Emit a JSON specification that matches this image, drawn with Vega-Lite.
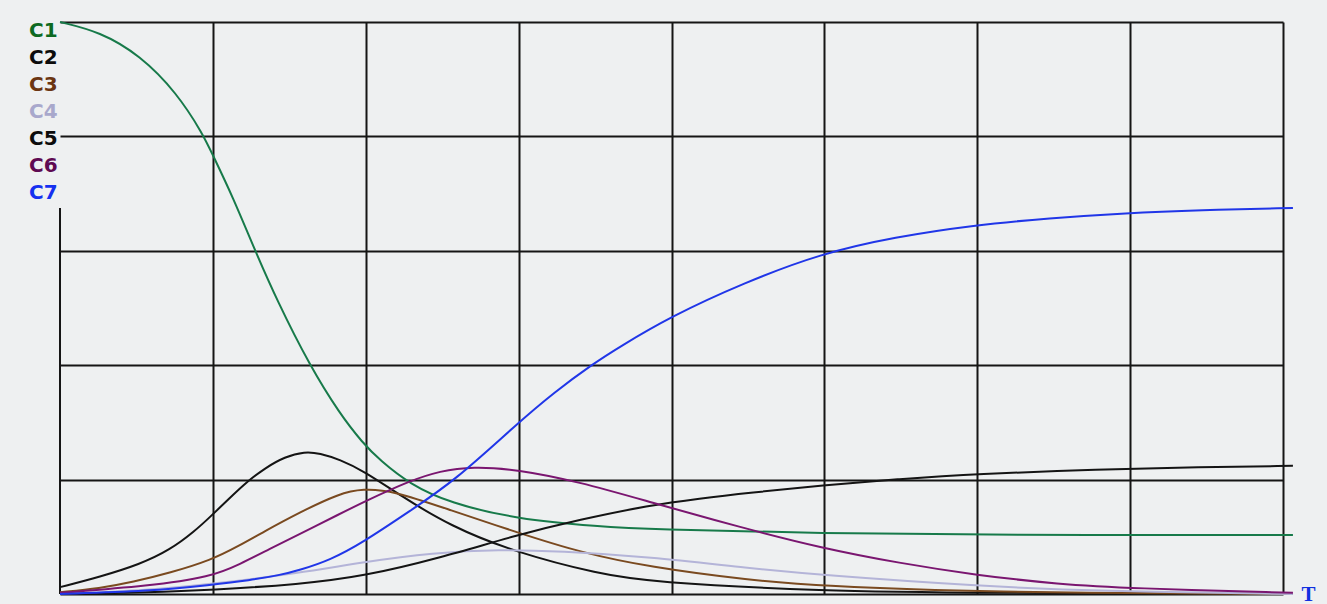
{
  "$schema": "https://vega.github.io/schema/vega-lite/v6.json",
  "width": 1223,
  "height": 572,
  "autosize": {"type": "none"},
  "padding": {"left": 60, "top": 22, "right": 44, "bottom": 10},
  "background": "#eef0f1",
  "config": {"view": {"stroke": null}},
  "layer": [
    {
      "data": {"values": [{}]},
      "mark": {"type": "rule", "color": "#151515", "strokeWidth": 2},
      "encoding": {
        "x": {"datum": 0, "type": "quantitative"},
        "y": {"datum": 0, "type": "quantitative"},
        "y2": {"datum": 0.675}
      }
    },
    {
      "data": {"values": [
        {"s":"C1","t":0,"c":1.0},{"s":"C1","t":0.261,"c":0.983},{"s":"C1","t":0.523,"c":0.942},{"s":"C1","t":0.765,"c":0.876},{"s":"C1","t":0.935,"c":0.804},{"s":"C1","t":0.993,"c":0.771},{"s":"C1","t":1.131,"c":0.694},{"s":"C1","t":1.275,"c":0.601},{"s":"C1","t":1.418,"c":0.514},{"s":"C1","t":1.634,"c":0.399},{"s":"C1","t":1.83,"c":0.315},{"s":"C1","t":1.98,"c":0.264},{"s":"C1","t":2.092,"c":0.234},{"s":"C1","t":2.288,"c":0.192},{"s":"C1","t":2.549,"c":0.159},{"s":"C1","t":2.987,"c":0.131},{"s":"C1","t":3.529,"c":0.118},{"s":"C1","t":3.856,"c":0.113},{"s":"C1","t":4.987,"c":0.106},{"s":"C1","t":6.144,"c":0.103},{"s":"C1","t":8.065,"c":0.103},
        {"s":"C2","t":0,"c":0.012},{"s":"C2","t":0.261,"c":0.030},{"s":"C2","t":0.523,"c":0.052},{"s":"C2","t":0.719,"c":0.077},{"s":"C2","t":0.882,"c":0.110},{"s":"C2","t":0.987,"c":0.136},{"s":"C2","t":1.111,"c":0.168},{"s":"C2","t":1.222,"c":0.196},{"s":"C2","t":1.340,"c":0.220},{"s":"C2","t":1.471,"c":0.240},{"s":"C2","t":1.601,"c":0.249},{"s":"C2","t":1.699,"c":0.246},{"s":"C2","t":1.830,"c":0.235},{"s":"C2","t":1.987,"c":0.215},{"s":"C2","t":2.222,"c":0.173},{"s":"C2","t":2.549,"c":0.119},{"s":"C2","t":2.987,"c":0.072},{"s":"C2","t":3.529,"c":0.035},{"s":"C2","t":3.856,"c":0.021},{"s":"C2","t":4.987,"c":0.005},{"s":"C2","t":5.993,"c":0.002},{"s":"C2","t":8.065,"c":0},
        {"s":"C3","t":0,"c":0.003},{"s":"C3","t":0.261,"c":0.010},{"s":"C3","t":0.477,"c":0.021},{"s":"C3","t":0.719,"c":0.037},{"s":"C3","t":0.987,"c":0.059},{"s":"C3","t":1.176,"c":0.085},{"s":"C3","t":1.327,"c":0.108},{"s":"C3","t":1.569,"c":0.143},{"s":"C3","t":1.830,"c":0.176},{"s":"C3","t":1.980,"c":0.184},{"s":"C3","t":2.176,"c":0.181},{"s":"C3","t":2.549,"c":0.147},{"s":"C3","t":2.987,"c":0.108},{"s":"C3","t":3.399,"c":0.073},{"s":"C3","t":3.856,"c":0.047},{"s":"C3","t":4.51,"c":0.024},{"s":"C3","t":4.987,"c":0.014},{"s":"C3","t":5.993,"c":0.003},{"s":"C3","t":8.065,"c":0},
        {"s":"C4","t":0,"c":0},{"s":"C4","t":0.588,"c":0.007},{"s":"C4","t":0.987,"c":0.017},{"s":"C4","t":1.569,"c":0.037},{"s":"C4","t":1.987,"c":0.056},{"s":"C4","t":2.438,"c":0.072},{"s":"C4","t":2.876,"c":0.078},{"s":"C4","t":3.268,"c":0.075},{"s":"C4","t":3.856,"c":0.065},{"s":"C4","t":4.51,"c":0.045},{"s":"C4","t":4.987,"c":0.033},{"s":"C4","t":5.993,"c":0.014},{"s":"C4","t":6.797,"c":0.005},{"s":"C4","t":8.065,"c":0},
        {"s":"C5","t":0,"c":0},{"s":"C5","t":0.588,"c":0.003},{"s":"C5","t":0.987,"c":0.007},{"s":"C5","t":1.569,"c":0.017},{"s":"C5","t":1.987,"c":0.031},{"s":"C5","t":2.484,"c":0.063},{"s":"C5","t":2.987,"c":0.103},{"s":"C5","t":3.399,"c":0.130},{"s":"C5","t":3.856,"c":0.155},{"s":"C5","t":4.183,"c":0.167},{"s":"C5","t":4.51,"c":0.177},{"s":"C5","t":4.987,"c":0.190},{"s":"C5","t":5.49,"c":0.201},{"s":"C5","t":5.993,"c":0.210},{"s":"C5","t":6.797,"c":0.218},{"s":"C5","t":7.451,"c":0.222},{"s":"C5","t":8.065,"c":0.224},
        {"s":"C6","t":0,"c":0.002},{"s":"C6","t":0.588,"c":0.014},{"s":"C6","t":0.987,"c":0.030},{"s":"C6","t":1.176,"c":0.052},{"s":"C6","t":1.373,"c":0.079},{"s":"C6","t":1.569,"c":0.105},{"s":"C6","t":1.830,"c":0.140},{"s":"C6","t":1.987,"c":0.161},{"s":"C6","t":2.288,"c":0.198},{"s":"C6","t":2.484,"c":0.215},{"s":"C6","t":2.699,"c":0.223},{"s":"C6","t":2.987,"c":0.218},{"s":"C6","t":3.399,"c":0.196},{"s":"C6","t":3.856,"c":0.161},{"s":"C6","t":4.444,"c":0.117},{"s":"C6","t":4.987,"c":0.08},{"s":"C6","t":5.49,"c":0.054},{"s":"C6","t":5.993,"c":0.033},{"s":"C6","t":6.536,"c":0.017},{"s":"C6","t":6.993,"c":0.01},{"s":"C6","t":8.065,"c":0.002},
        {"s":"C7","t":0,"c":0},{"s":"C7","t":0.588,"c":0.005},{"s":"C7","t":0.987,"c":0.016},{"s":"C7","t":1.242,"c":0.024},{"s":"C7","t":1.438,"c":0.033},{"s":"C7","t":1.569,"c":0.042},{"s":"C7","t":1.765,"c":0.059},{"s":"C7","t":1.987,"c":0.091},{"s":"C7","t":2.288,"c":0.145},{"s":"C7","t":2.582,"c":0.198},{"s":"C7","t":2.987,"c":0.297},{"s":"C7","t":3.235,"c":0.353},{"s":"C7","t":3.484,"c":0.402},{"s":"C7","t":3.66,"c":0.432},{"s":"C7","t":3.987,"c":0.484},{"s":"C7","t":4.471,"c":0.544},{"s":"C7","t":4.987,"c":0.596},{"s":"C7","t":5.458,"c":0.624},{"s":"C7","t":5.98,"c":0.645},{"s":"C7","t":6.471,"c":0.657},{"s":"C7","t":6.974,"c":0.666},{"s":"C7","t":7.451,"c":0.671},{"s":"C7","t":8.065,"c":0.675}
      ]},
      "mark": {"type": "line", "interpolate": "basis", "strokeWidth": 2},
      "encoding": {
        "x": {
          "field": "t", "type": "quantitative",
          "scale": {"domain": [0, 8], "nice": false, "zero": false},
          "axis": {
            "values": [1, 2, 3, 4, 5, 6, 7, 8],
            "grid": true, "gridColor": "#151515", "gridWidth": 2, "gridOpacity": 1,
            "labels": false, "ticks": false,
            "domain": true, "domainColor": "#151515", "domainWidth": 2,
            "title": "T", "titleColor": "#1030e0", "titleFont": "Liberation Serif",
            "titleFontSize": 21, "titleFontWeight": "bold",
            "titleX": 1248, "titleY": 0, "titleAlign": "center", "titleBaseline": "middle", "titleAnchor": "start"
          }
        },
        "y": {
          "field": "c", "type": "quantitative",
          "scale": {"domain": [0, 1], "nice": false},
          "axis": {
            "values": [0.2, 0.4, 0.6, 0.8, 1.0],
            "grid": true, "gridColor": "#151515", "gridWidth": 2, "gridOpacity": 1,
            "labels": false, "ticks": false, "domain": false, "title": null
          }
        },
        "color": {
          "field": "s", "type": "nominal",
          "scale": {
            "domain": ["C1", "C2", "C3", "C4", "C5", "C6", "C7"],
            "range": ["#177a4a", "#141414", "#7a4a20", "#b4b4d8", "#141414", "#7a1670", "#2036e8"]
          },
          "legend": {
            "orient": "none", "legendX": -51, "legendY": -1,
            "title": null, "symbolType": "circle", "symbolSize": 0, "symbolStrokeWidth": 0, "symbolOpacity": 0,
            "labelFont": "DejaVu Sans", "labelFontWeight": "bold", "labelFontSize": 20,
            "labelOffset": 0, "rowPadding": 7, "padding": 0,
            "labelColor": {"expr": "datum.value === 'C1' ? '#0d6a22' : datum.value === 'C3' ? '#6b3512' : datum.value === 'C4' ? '#a8a8cc' : datum.value === 'C6' ? '#5e0a52' : datum.value === 'C7' ? '#1530f0' : '#0c0c0c'"}
          }
        }
      }
    }
  ]
}
